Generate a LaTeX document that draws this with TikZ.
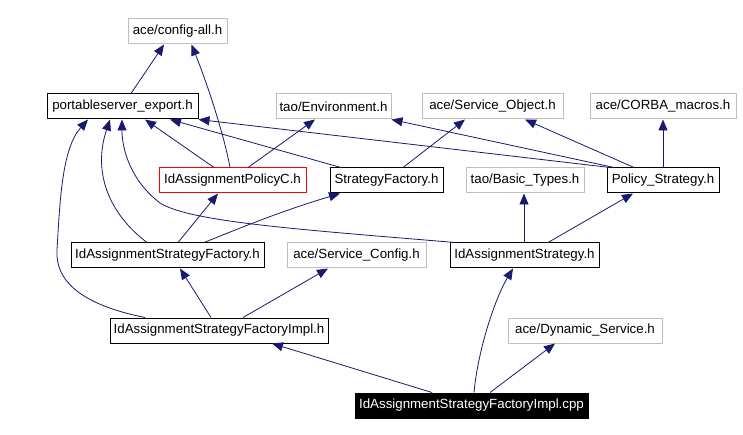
\documentclass[tikz,border=0pt]{standalone}
\usepackage{fontspec}
\setmainfont{Liberation Sans}
\usetikzlibrary{arrows.meta}
\definecolor{edgecol}{HTML}{191970}
\definecolor{greyb}{HTML}{BFBFBF}
\begin{document}
\begin{tikzpicture}[x=1pt,y=-1pt,
  box/.style={draw=black, line width=1pt, inner sep=0pt, minimum height=25pt,
    font=\fontsize{13.3}{15}\selectfont},
  grey/.style={box, draw=greyb},
  redb/.style={box, draw=red},
  main/.style={box, fill=black, text=white},
  edge/.style={draw=edgecol, line width=0.8pt, -{Triangle[length=11pt,width=9pt]}}]
\useasboundingbox[fill=white] (0,0) rectangle (743,435);
% nodes
\node[grey, minimum width=99pt]  (config) at (177.5,31.5) {ace/config-all.h};
\node[box,  minimum width=151pt] (pes)    at (122.5,106.5) {portableserver\_export.h};
\node[grey, minimum width=115pt] (env)    at (333.5,106.5) {tao/Environment.h};
\node[grey, minimum width=141pt] (svcobj) at (492.5,106.5) {ace/Service\_Object.h};
\node[grey, minimum width=146pt] (corba)  at (663,106.5) {ace/CORBA\_macros.h};
\node[redb, minimum width=147pt] (polc)   at (232.5,180.5) {IdAssignmentPolicyC.h};
\node[box,  minimum width=113pt] (sf)     at (386.5,180.5) {StrategyFactory.h};
\node[grey, minimum width=118pt] (basic)  at (525,180.5) {tao/Basic\_Types.h};
\node[box,  minimum width=112pt] (ps)     at (663,180.5) {Policy\_Strategy.h};
\node[box,  minimum width=193pt] (isf)    at (167.5,255.5) {IdAssignmentStrategyFactory.h};
\node[grey, minimum width=139pt] (svccfg) at (356.5,255.5) {ace/Service\_Config.h};
\node[box,  minimum width=149pt] (is)     at (524.5,255.5) {IdAssignmentStrategy.h};
\node[box,  minimum width=218pt] (isfi)   at (219,330.5) {IdAssignmentStrategyFactoryImpl.h};
\node[grey, minimum width=154pt] (dyn)    at (585,330.5) {ace/Dynamic\_Service.h};
\node[main, minimum width=233pt] (cpp)    at (471.5,405.5) {IdAssignmentStrategyFactoryImpl.cpp};
% edges
\draw[edge] ([xshift=8.5pt]pes.north) -- ([xshift=-13.5pt]config.south);
\draw[edge] ([xshift=-2.5pt]polc.north) .. controls +(-6,-33) and +(16,40) .. ([xshift=14pt]config.south);
\draw[edge] ([xshift=-18.5pt]polc.north) -- ([xshift=22.5pt]pes.south);
\draw[edge] ([xshift=15.5pt]polc.north) -- ([xshift=-18.5pt]env.south);
\draw[edge] ([xshift=-45.5pt]sf.north) -- ([xshift=47.5pt]pes.south);
\draw[edge] ([xshift=16.5pt]sf.north) -- ([xshift=-27.5pt]svcobj.south);
\draw[edge] ([xshift=-53pt]ps.north) -- (pes.south east);
\draw[edge] ([xshift=-49pt]ps.north) -- (env.south east);
\draw[edge] ([xshift=-29pt]ps.north) -- ([xshift=32.5pt]svcobj.south);
\draw[edge] (ps.north) -- (corba.south);
\draw[edge] ([xshift=-20.5pt]isf.north) .. controls +(-37,-28) and +(-18,54) .. ([xshift=-12.5pt]pes.south);
\draw[edge] ([xshift=10.5pt]isf.north) -- ([xshift=-14.5pt]polc.south);
\draw[edge] ([xshift=36.5pt]isf.north) .. controls +(40,-16) and +(-60,18) .. ([xshift=-46.5pt]sf.south);
\coordinate (m14) at (160,203);
\draw[edge] ([xshift=-69.5pt]is.north) .. controls +(-155,-13) and +(30,19) .. (m14)
  .. controls +(-30,-23) and +(0,29) .. ([xshift=-0.5pt]pes.south);
\draw[edge] ([xshift=-0.5pt]is.north) -- ([xshift=-1pt]basic.south);
\draw[edge] ([xshift=23.5pt]is.north) -- ([xshift=-30pt]ps.south);
\coordinate (m17) at (57,250);
\draw[edge] ([xshift=-74pt]isfi.north) .. controls +(-65,-13) and +(-2,30) .. (m17)
  .. controls +(3,-50) and +(-26,29) .. ([xshift=-34.5pt]pes.south);
\draw[edge] ([xshift=-8pt]isfi.north) -- ([xshift=12.5pt]isf.south);
\draw[edge] ([xshift=24pt]isfi.north) -- ([xshift=-28.5pt]svccfg.south);
\draw[edge] ([xshift=-39.5pt]cpp.north) -- ([xshift=53pt]isfi.south);
\draw[edge] ([xshift=2.5pt]cpp.north) .. controls +(4,-43) and +(-18,30) .. ([xshift=-11.5pt]is.south);
\draw[edge] ([xshift=18.5pt]cpp.north) -- ([xshift=-30pt]dyn.south);
\end{tikzpicture}
\end{document}
